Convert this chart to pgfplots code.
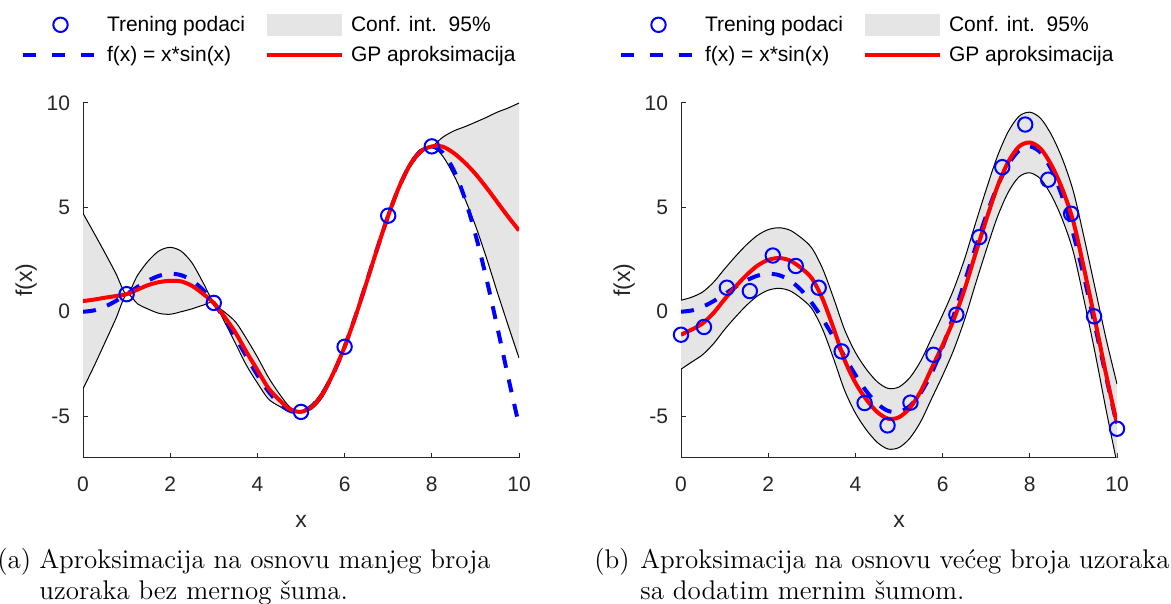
\documentclass[border=0pt]{standalone}
\usepackage{fontspec}
\usepackage{pgfplots}
\pgfplotsset{compat=1.18}
\usepackage{pgfplotstable}
\usepgfplotslibrary{fillbetween}
\newfontfamily\arial{Liberation Sans}
\definecolor{bandgray}{RGB}{229,229,229}
\definecolor{axgray}{RGB}{38,38,38}

% f(x) = x*sin(x), tabulated
\pgfplotstableread{
x y
0 0
0.25 0.0619
0.5 0.2397
0.75 0.5112
1 0.8415
1.25 1.1862
1.5 1.4962
1.75 1.7220
2 1.8186
2.25 1.7507
2.5 1.4962
2.75 1.0497
3 0.4234
3.25 -0.3516
3.5 -1.2278
3.75 -2.1435
4 -3.0272
4.25 -3.8038
4.5 -4.3988
4.75 -4.7467
5 -4.7946
5.25 -4.5092
5.5 -3.8803
5.75 -2.9227
6 -1.6765
6.25 -0.2075
6.5 1.3982
6.75 3.0375
7 4.5989
7.25 5.9675
7.5 7.0350
7.75 7.7082
8 7.9149
8.25 7.6123
8.5 6.7873
8.75 5.4661
9 3.7091
9.25 1.6123
9.5 -0.7144
9.75 -3.1151
10 -5.4402
}\truefn

% panel (a): GP mean m and half-width w of 95% interval
\pgfplotstableread{
x m w
0 0.51 4.2
0.25 0.58 3.2
0.5 0.67 2.16
0.75 0.75 1.1
1 0.84 0
1.25 1.06 0.68
1.5 1.28 1.16
1.75 1.42 1.5
2 1.48 1.6
2.25 1.45 1.45
2.5 1.24 1.1
2.75 0.86 0.55
3 0.42 0
3.25 -0.26 0.24
3.5 -1.01 0.52
3.75 -1.93 0.64
4 -2.79 0.62
4.25 -3.65 0.52
4.5 -4.22 0.3
4.75 -4.67 0.1
5 -4.79 0
5.25 -4.55 0.1
5.5 -3.92 0.15
5.75 -2.9 0.1
6 -1.68 0
6.25 -0.22 0.08
6.5 1.38 0.1
6.75 3.03 0.08
7 4.60 0
7.25 5.97 0.08
7.5 7.03 0.12
7.75 7.68 0.1
8 7.91 0
8.25 7.9 0.45
8.5 7.6 1.05
8.75 7.15 1.7
9 6.6 2.47
9.25 5.95 3.35
9.5 5.25 4.3
9.75 4.55 5.2
10 3.89 6.1
}\gpA

\pgfplotstableread{
x y
1 0.8415
3 0.4234
5 -4.7946
6 -1.6765
7 4.5989
8 7.9149
}\trainA

% panel (b)
\pgfplotstableread{
x m w
0 -1.1 1.65
0.25 -0.85 1.55
0.5 -0.55 1.5
0.75 -0.05 1.47
1 0.6 1.45
1.25 1.2 1.45
1.5 1.75 1.45
1.75 2.2 1.45
2 2.48 1.45
2.25 2.57 1.45
2.5 2.45 1.45
2.75 2.1 1.45
3 1.6 1.45
3.25 0.6 1.45
3.5 -0.8 1.45
3.75 -2.3 1.45
4 -3.4 1.45
4.25 -4.2 1.45
4.5 -4.8 1.45
4.75 -5.12 1.45
5 -5.05 1.45
5.25 -4.6 1.45
5.5 -3.8 1.45
5.75 -2.7 1.45
6 -1.6 1.45
6.25 -0.4 1.45
6.5 1.05 1.45
6.75 2.75 1.45
7 4.4 1.45
7.25 5.95 1.45
7.5 7.15 1.45
7.75 7.9 1.45
8 8.1 1.45
8.25 7.8 1.45
8.5 7.0 1.45
8.75 5.85 1.45
9 4.3 1.45
9.25 2.0 1.5
9.5 -0.45 1.55
9.75 -3.0 1.7
10 -5.36 1.9
}\gpB

\pgfplotstableread{
x y
0 -1.10
0.5263 -0.73
1.0526 1.15
1.5789 0.99
2.1053 2.69
2.6316 2.19
3.1579 1.15
3.6842 -1.90
4.2105 -4.37
4.7368 -5.44
5.2632 -4.35
5.7895 -2.06
6.3158 -0.14
6.8421 3.57
7.3684 6.92
7.8947 8.96
8.4211 6.32
8.9474 4.69
9.4737 -0.22
10 -5.60
}\trainB

\pgfplotsset{
  gpaxis/.style={
    scale only axis, width=218pt, height=177.6pt,
    xmin=0, xmax=10, ymin=-7, ymax=10,
    axis x line*=bottom, axis y line*=left,
    axis line style={axgray, line width=0.5pt},
    xtick={0,2,4,6,8,10}, xticklabels={0,2,4,6,8,10},
    ytick={-5,0,5,10}, yticklabels={-5,0,5,10},
    tick align=inside, major tick length=2.5pt,
    tick style={axgray, line width=0.5pt},
    xticklabel style={anchor=base, yshift=-17pt, font=\arial\fontsize{10.5}{12}\selectfont, text=axgray},
    yticklabel style={anchor=east, xshift=-3pt, font=\arial\fontsize{10.5}{12}\selectfont, text=axgray},
    xlabel={x}, ylabel={f(x)},
    xlabel style={at={([yshift=-34.7pt]axis description cs:0.5,0)}, anchor=base, font=\arial\fontsize{11.5}{13}\selectfont, text=axgray},
    ylabel style={at={([xshift=-25.5pt]axis description cs:0,0.5)}, anchor=base, font=\arial\fontsize{11.5}{13}\selectfont, text=axgray},
    clip mode=individual,
    legend columns=2,
    legend cell align=left,
    legend style={draw=none, fill=none, inner sep=0pt, outer sep=0pt,
      at={([xshift=-31pt,yshift=46pt]axis description cs:0,1)}, anchor=north west,
      font=\arial\fontsize{10.5}{12}\selectfont,
      nodes={inner sep=2pt, text height=8.5pt, text depth=1.5pt},
      row sep=1pt,
      /tikz/every odd column/.style={column sep=1.5pt},
      /tikz/every even column/.style={column sep=0pt}},
  },
  trainleg/.style={legend image code/.code={\path[draw=none,fill=none] (0pt,-5.5pt) rectangle (37.5pt,5.5pt); \draw[blue, line width=1pt, fill=none] (18.75pt,0pt) circle (3.6pt);}},
  bandleg/.style={legend image code/.code={\path[draw=none, fill=bandgray] (0pt,-5.5pt) rectangle (37.5pt,5.5pt);}},
  trueleg/.style={legend image code/.code={\path[draw=none,fill=none] (0pt,-5.5pt) rectangle (37.5pt,5.5pt); \draw[blue, line width=2pt, dash pattern=on 6.5pt off 8pt] (0pt,0pt) -- (37.5pt,0pt);}},
  gpleg/.style={legend image code/.code={\path[draw=none,fill=none] (0pt,-5.5pt) rectangle (37.5pt,5.5pt); \draw[red, line width=2pt] (0pt,0pt) -- (37.5pt,0pt);}},
}

\begin{document}
\begin{tikzpicture}

% ---------- panel (a)
\begin{axis}[gpaxis, at={(41.5pt,73pt)}, anchor=south west]
\addplot[draw=none, name path=uA, smooth, forget plot] table[x=x, y expr=\thisrow{m}+\thisrow{w}] {\gpA};
\addplot[draw=none, name path=lA, smooth, forget plot] table[x=x, y expr=\thisrow{m}-\thisrow{w}] {\gpA};
\addplot[bandgray, forget plot] fill between[of=uA and lA];
\addplot[black, line width=0.5pt, smooth, forget plot] table[x=x, y expr=\thisrow{m}+\thisrow{w}] {\gpA};
\addplot[black, line width=0.5pt, smooth, forget plot] table[x=x, y expr=\thisrow{m}-\thisrow{w}] {\gpA};
\addplot[blue, line width=2pt, dash pattern=on 6.5pt off 6pt, smooth, forget plot] table[x=x, y=y] {\truefn};
\addplot[red, line width=2pt, smooth, forget plot] table[x=x, y=m] {\gpA};
\addplot[only marks, mark=o, blue, mark size=3.6pt, line width=1pt, forget plot] table[x=x, y=y] {\trainA};
\addlegendimage{trainleg}\addlegendentry{\makebox[77pt][l]{Trening podaci}}
\addlegendimage{bandleg}\addlegendentry{Conf. int.\ \ 95\%}
\addlegendimage{trueleg}\addlegendentry{\makebox[77pt][l]{f(x) = x*sin(x)}}
\addlegendimage{gpleg}\addlegendentry{GP aproksimacija}
\end{axis}

% ---------- panel (b)
\begin{axis}[gpaxis, at={(340.5pt,73pt)}, anchor=south west]
\addplot[draw=none, name path=uB, smooth, forget plot] table[x=x, y expr=\thisrow{m}+\thisrow{w}] {\gpB};
\addplot[draw=none, name path=lB, smooth, forget plot] table[x=x, y expr=\thisrow{m}-\thisrow{w}] {\gpB};
\addplot[bandgray, forget plot] fill between[of=uB and lB];
\addplot[black, line width=0.5pt, smooth, forget plot] table[x=x, y expr=\thisrow{m}+\thisrow{w}] {\gpB};
\addplot[black, line width=0.5pt, smooth, forget plot] table[x=x, y expr=\thisrow{m}-\thisrow{w}] {\gpB};
\addplot[blue, line width=2pt, dash pattern=on 6.5pt off 6pt, smooth, forget plot] table[x=x, y=y] {\truefn};
\addplot[red, line width=2pt, smooth, forget plot] table[x=x, y=m] {\gpB};
\addplot[only marks, mark=o, blue, mark size=3.6pt, line width=1pt, forget plot] table[x=x, y=y] {\trainB};
\addlegendimage{trainleg}\addlegendentry{\makebox[77pt][l]{Trening podaci}}
\addlegendimage{bandleg}\addlegendentry{Conf. int.\ \ 95\%}
\addlegendimage{trueleg}\addlegendentry{\makebox[77pt][l]{f(x) = x*sin(x)}}
\addlegendimage{gpleg}\addlegendentry{GP aproksimacija}
\end{axis}

% ---------- captions
\begin{scope}[every node/.style={anchor=base west, inner sep=0pt, font=\fontsize{13.5}{15}\selectfont}]
\node at (-1.5pt,17.5pt) {(a)};
\node at (19.5pt,17.5pt) {Aproksimacija na osnovu manjeg broja};
\node at (19.5pt,2.25pt) {uzoraka bez mernog šuma.};
\node at (297pt,17.5pt) {(b)};
\node at (320pt,17.5pt) {Aproksimacija na osnovu većeg broja uzoraka};
\node at (320pt,2.25pt) {sa dodatim mernim šumom.};
\end{scope}
\pgfresetboundingbox
\path (0pt,0pt) rectangle (585.5pt,302pt);
\end{tikzpicture}
\end{document}
